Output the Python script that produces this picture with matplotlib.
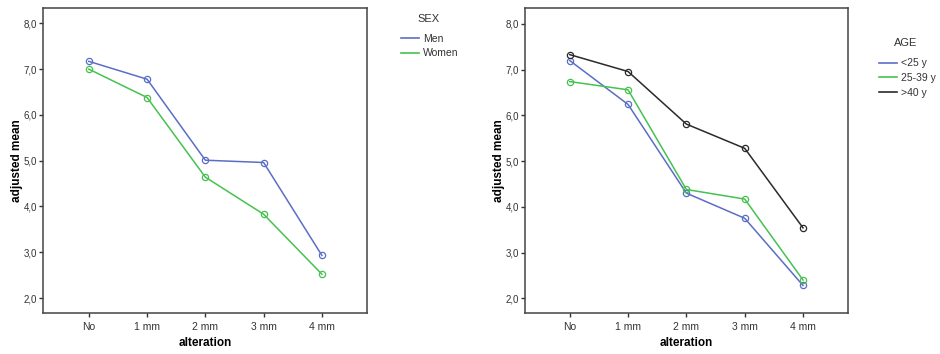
import matplotlib
matplotlib.use('Agg')
import matplotlib.pyplot as plt
from matplotlib.ticker import FuncFormatter

# data
alteration = ['No', '1 mm', '2 mm', '3 mm', '4 mm']

sex_groups = ['Men', 'Women']
men = [7.17, 6.78, 5.01, 4.96, 2.93]
women = [7.00, 6.38, 4.64, 3.83, 2.52]

age_groups = ['<25 y', '25-39 y', '>40 y']
age_lt25 = [7.20, 6.24, 4.30, 3.75, 2.28]
age_25_39 = [6.74, 6.56, 4.38, 4.17, 2.40]
age_gt40 = [7.33, 6.96, 5.81, 5.28, 3.54]

yticks = [2, 3, 4, 5, 6, 7, 8]

BLUE = '#5b6ec6'
GREEN = '#45c24f'
BLACK = '#2a2a2a'
FRAME = '#444444'
TEXT = '#333333'

plt.rcParams['font.family'] = ['Liberation Sans', 'DejaVu Sans']

fig = plt.figure(figsize=(9.4, 3.54), dpi=100)
ax1 = fig.add_axes([0.0461, 0.115, 0.3447, 0.863])
ax2 = fig.add_axes([0.5585, 0.115, 0.344, 0.8616])


def style_axes(ax, ylim, xlim):
    ax.set_xlim(*xlim)
    ax.set_ylim(*ylim)
    ax.set_xticks(range(len(alteration)))
    ax.set_xticklabels(alteration)
    ax.set_yticks(yticks)
    ax.yaxis.set_major_formatter(FuncFormatter(lambda v, p: f'{v:.1f}'.replace('.', ',')))
    ax.tick_params(axis='both', colors=TEXT, length=3, width=1, direction='out')
    ax.tick_params(axis='y', labelsize=7, pad=1.5)
    ax.tick_params(axis='x', labelsize=7.5, pad=3)
    for sp in ax.spines.values():
        sp.set_color(FRAME)
        sp.set_linewidth(1.1)
    ax.set_xlabel('alteration', fontsize=8.5, fontweight='bold', labelpad=4)
    ax.set_ylabel('adjusted mean', fontsize=8.5, fontweight='bold', labelpad=0.5)


def draw(ax, vals, color, label):
    ax.plot(range(len(vals)), vals, color=color, lw=1.1, marker='o', ms=4.5,
            mfc='none', mec=color, mew=0.9, label=label)


draw(ax1, men, BLUE, sex_groups[0])
draw(ax1, women, GREEN, sex_groups[1])
style_axes(ax1, (1.666, 8.34), (-0.78, 4.78))

draw(ax2, age_lt25, BLUE, age_groups[0])
draw(ax2, age_25_39, GREEN, age_groups[1])
draw(ax2, age_gt40, BLACK, age_groups[2])
style_axes(ax2, (1.672, 8.343), (-0.767, 4.777))

legends = [(ax1, 'SEX', (0.4564, 0.9463), (0.4266, 0.9045)),
           (ax2, 'AGE', (0.9635, 0.8785), (0.9348, 0.8355))]
for ax, title, title_xy, anchor in legends:
    handles, labels = ax.get_legend_handles_labels()
    lines = [plt.Line2D([], [], color=h.get_color(), lw=1.2) for h in handles]
    leg = fig.legend(lines, labels, loc='upper left', bbox_to_anchor=anchor,
                     frameon=False, fontsize=7.5, handlelength=1.75,
                     handletextpad=0.35, labelspacing=0.45, borderaxespad=0,
                     borderpad=0)
    for t in leg.get_texts():
        t.set_color(TEXT)
    fig.text(*title_xy, title, ha='center', va='center', fontsize=8, color=TEXT)

fig.savefig('out.png', dpi=100)
